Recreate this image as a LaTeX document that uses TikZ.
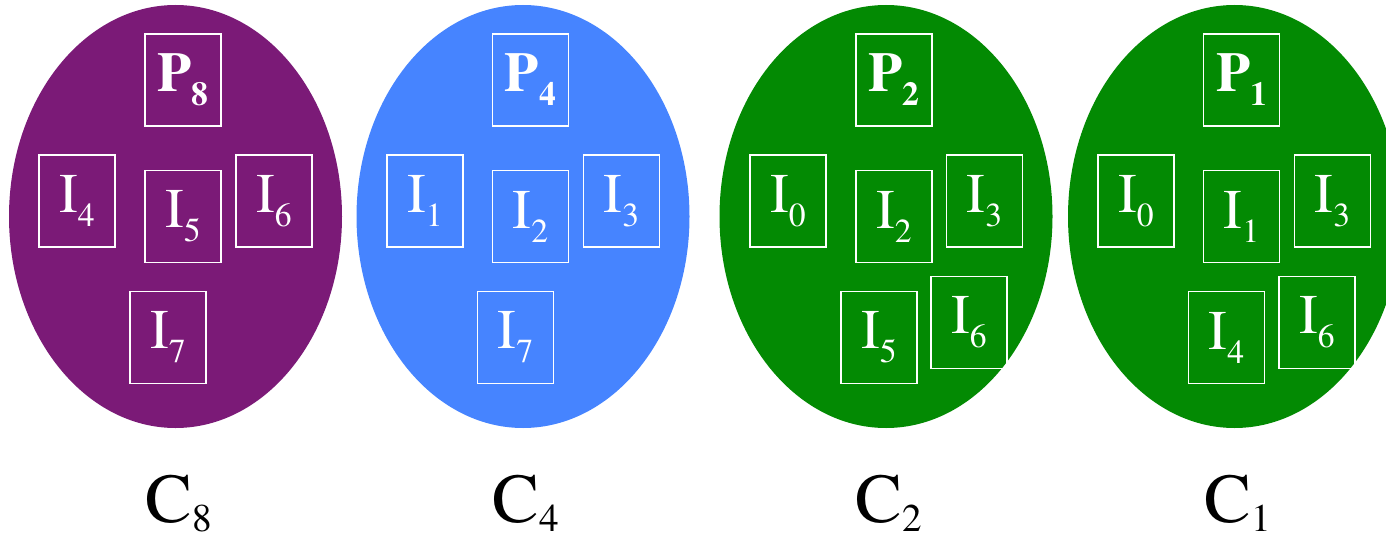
\documentclass[tikz,border=0pt]{standalone}
\usepackage{fontspec}
\setmainfont{TeX Gyre Termes}
\usetikzlibrary{shapes.geometric}
\usepackage{xcolor}
\definecolor{clpurple}{HTML}{7B1A77}
\definecolor{clblue}{HTML}{4684FF}
\definecolor{clgreen}{HTML}{038A03}
\newcommand{\subidx}[1]{\raisebox{-0.25em}{\scalebox{0.6}{#1}}}
\newcommand{\capidx}[1]{\raisebox{-0.14em}{\scalebox{0.56}{#1}}}

\begin{document}
\begin{tikzpicture}[x=0.5pt, y=-0.5pt,
    grp/.style={ellipse, inner sep=0pt, minimum width=166.5pt, minimum height=211.5pt},
    cell/.style={draw=white, line width=0.8pt, text=white, inner sep=0pt,
                 minimum width=38pt, minimum height=46pt, font=\fontsize{28}{30}\selectfont},
    lbl/.style={anchor=base, font=\fontsize{35}{40}\selectfont}]
  \clip (0,0) rectangle (1386,535);
  \node[grp, fill=clpurple] (c8) at (175.5,216.5) {};
  \node[grp, fill=clblue]   (c4) at (523,216.5) {};
  \node[grp, fill=clgreen]  (c2) at (886,216.5) {};
  \node[grp, fill=clgreen]  (c1) at (1234.5,216.5) {};

  \node[cell] (c8p)  at (183,80)      {\bfseries P\subidx{8}};
  \node[cell] (c8i4) at (77,201)      {I\subidx{4}};
  \node[cell] (c8i5) at (183,216.5)   {I\subidx{5}};
  \node[cell] (c8i6) at (274,201)     {I\subidx{6}};
  \node[cell] (c8i7) at (168,337.5)   {I\subidx{7}};

  \node[cell] (c4p)  at (530.5,80)    {\bfseries P\subidx{4}};
  \node[cell] (c4i1) at (425,201)     {I\subidx{1}};
  \node[cell] (c4i2) at (530.5,216.5) {I\subidx{2}};
  \node[cell] (c4i3) at (621.5,201)   {I\subidx{3}};
  \node[cell] (c4i7) at (515.5,337.5) {I\subidx{7}};

  \node[cell] (c2p)  at (894,80)      {\bfseries P\subidx{2}};
  \node[cell] (c2i0) at (788,201)     {I\subidx{0}};
  \node[cell] (c2i2) at (894,216.5)   {I\subidx{2}};
  \node[cell] (c2i3) at (984.5,201)   {I\subidx{3}};
  \node[cell] (c2i5) at (879,337.5)   {I\subidx{5}};
  \node[cell] (c2i6) at (969,322.5)   {I\subidx{6}};

  \node[cell] (c1p)  at (1241.5,80)   {\bfseries P\subidx{1}};
  \node[cell] (c1i0) at (1136,201)    {I\subidx{0}};
  \node[cell] (c1i1) at (1241.5,216.5){I\subidx{1}};
  \node[cell] (c1i3) at (1332.5,201)  {I\subidx{3}};
  \node[cell] (c1i4) at (1226.5,337.5){I\subidx{4}};
  \node[cell] (c1i6) at (1317,322.5)  {I\subidx{6}};

  \node[lbl] (l8) at (179,522)    {C\capidx{8}};
  \node[lbl] (l4) at (526,522)    {C\capidx{4}};
  \node[lbl] (l2) at (889,522)    {C\capidx{2}};
  \node[lbl] (l1) at (1237.5,522) {C\capidx{1}};
\end{tikzpicture}
\end{document}
